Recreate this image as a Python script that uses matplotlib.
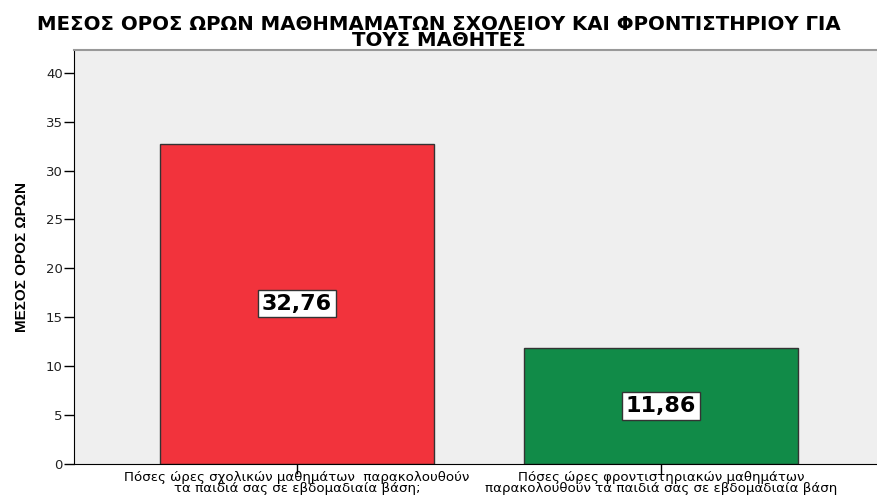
import matplotlib.pyplot as plt

plt.rcParams['font.family'] = ['DejaVu Sans']

categories = [
    'Πόσες ώρες σχολικών μαθημάτων  παρακολουθούν\nτα παιδιά σας σε εβδομαδιαία βάση;',
    'Πόσες ώρες φροντιστηριακών μαθημάτων\nπαρακολουθούν τα παιδιά σας σε εβδομαδιαία βάση',
]
means = [32.76, 11.86]
colors = ['#F2333C', '#118B48']
yticks = [0, 5, 10, 15, 20, 25, 30, 35, 40]

fig = plt.figure(figsize=(8.77, 4.95), dpi=100)
ax = fig.add_axes([0.0844, 0.0626, 0.9236, 0.8364])
ax.set_facecolor('#EFEFEF')

x = list(range(len(means)))
ax.bar(x, means, width=0.753, color=colors, edgecolor='#333333', linewidth=1.0, zorder=2)

# value boxes in the middle of each bar
for xi, v in zip(x, means):
    ax.text(xi, v / 2, f'{v:.2f}'.replace('.', ','), ha='center', va='center',
            fontsize=16, fontweight='bold', color='black', zorder=3,
            bbox=dict(boxstyle='square,pad=0.16', facecolor='white',
                      edgecolor='#333333', linewidth=1.0))

ax.set_xlim(-0.613, 1.613)
ax.set_ylim(0, 42.33)
ax.set_yticks(yticks)
ax.set_yticklabels([str(t) for t in yticks], fontsize=9.5, color='#222222')
ax.set_xticks(x)
ax.set_xticklabels(categories, fontsize=9.6, linespacing=0.82)
ax.tick_params(axis='y', length=7, width=1, pad=1)
ax.tick_params(axis='x', length=7, width=1, pad=-2)

ax.spines['left'].set_color('black')
ax.spines['bottom'].set_color('black')
ax.spines['top'].set_color('#999999')
ax.spines['top'].set_linewidth(1.5)
ax.spines['right'].set_visible(False)

ax.set_ylabel('ΜΕΣΟΣ ΟΡΟΣ ΩΡΩΝ', fontsize=11, fontweight='bold', labelpad=12,
              family='Liberation Sans')

fig.suptitle('ΜΕΣΟΣ ΟΡΟΣ ΩΡΩΝ ΜΑΘΗΜΑΜΑΤΩΝ ΣΧΟΛΕΙΟΥ ΚΑΙ ΦΡΟΝΤΙΣΤΗΡΙΟΥ ΓΙΑ\nΤΟΥΣ ΜΑΘΗΤΕΣ',
             x=0.5, y=0.97, fontsize=14.2, fontweight='bold', linespacing=0.8)

fig.savefig('out.png', dpi=100)
